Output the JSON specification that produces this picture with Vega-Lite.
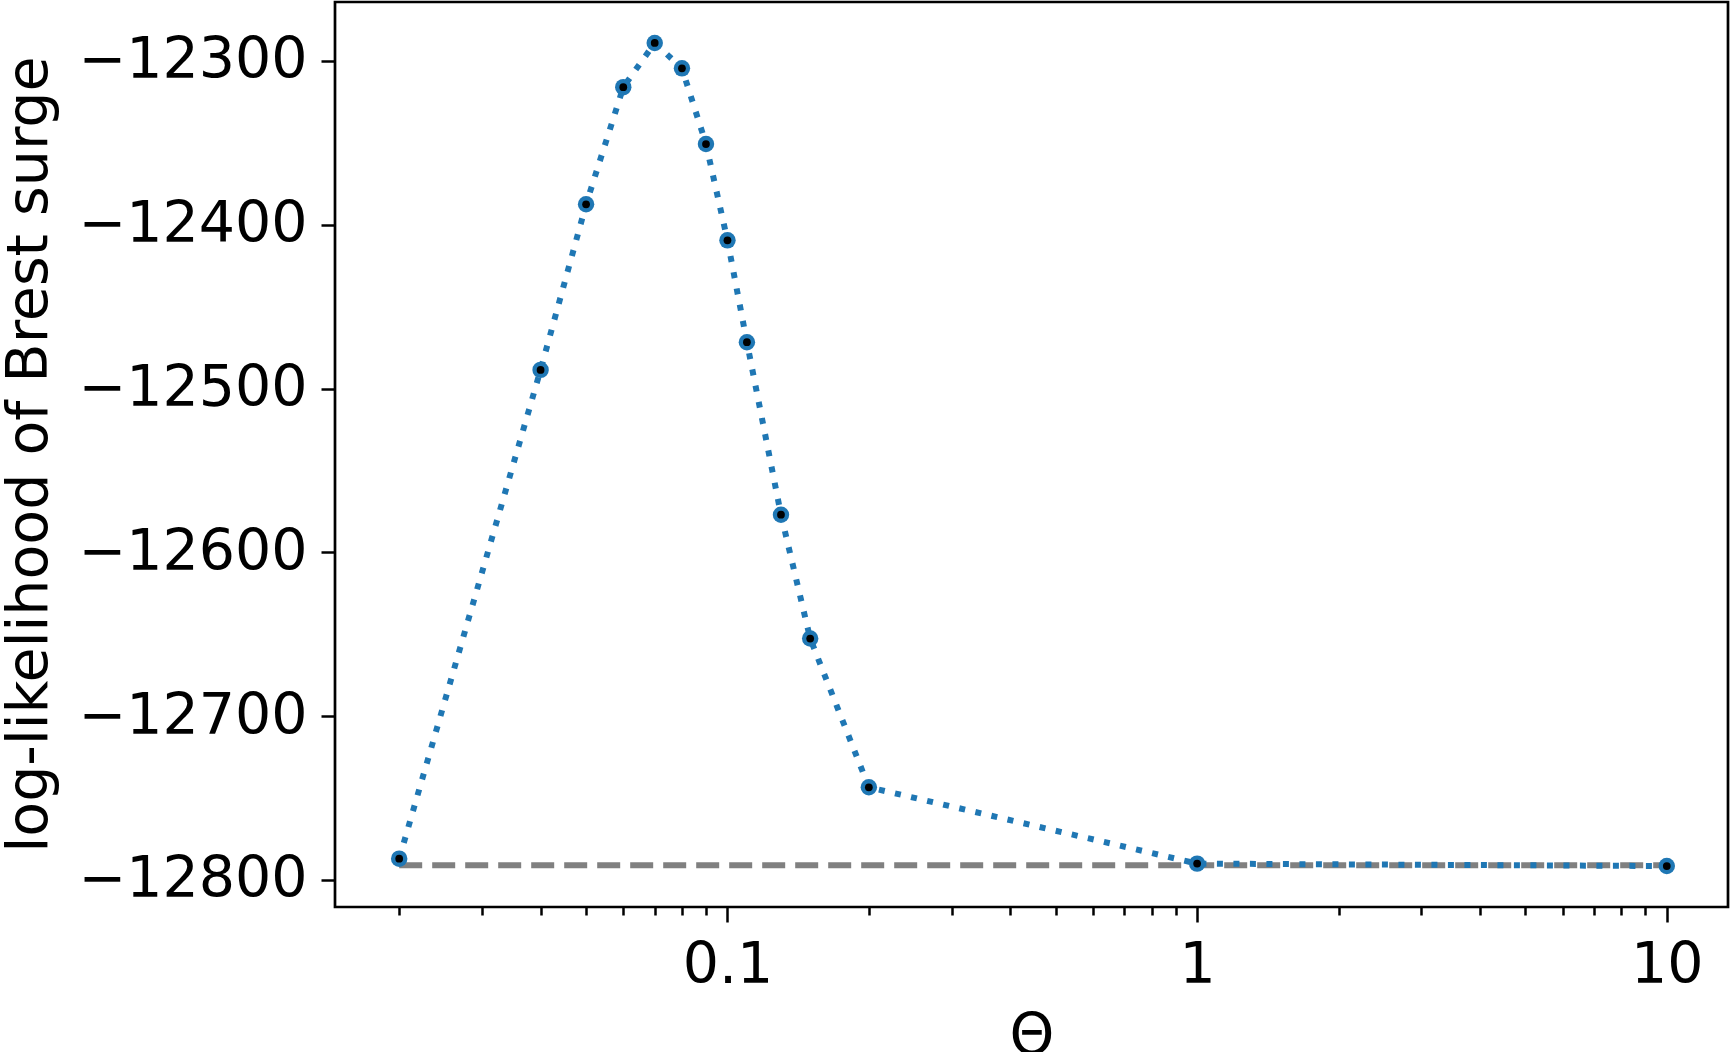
{
  "$schema": "https://vega.github.io/schema/vega-lite/v6.json",
  "width": 1393,
  "height": 905,
  "autosize": {"type": "none"},
  "padding": {"left": 335, "top": 2, "right": 4, "bottom": 145},
  "background": "white",
  "config": {
    "view": {"stroke": "black", "strokeWidth": 2.7},
    "axis": {
      "labelFont": "DejaVu Sans", "titleFont": "DejaVu Sans",
      "labelFontSize": 57, "titleFontSize": 57,
      "labelColor": "black", "titleColor": "black",
      "tickColor": "black", "tickWidth": 2.5,
      "domain": false, "grid": false, "titleFontWeight": "normal",
      "labelFlush": false, "labelOverlap": false, "labelLimit": 0, "titleLimit": 0
    }
  },
  "datasets": {
    "ll": [
      {"theta": 0.02, "ll": -12787},
      {"theta": 0.04, "ll": -12488.6},
      {"theta": 0.05, "ll": -12387.5},
      {"theta": 0.06, "ll": -12316},
      {"theta": 0.07, "ll": -12289},
      {"theta": 0.08, "ll": -12304.5},
      {"theta": 0.09, "ll": -12350.7},
      {"theta": 0.1, "ll": -12409.5},
      {"theta": 0.11, "ll": -12471.7},
      {"theta": 0.13, "ll": -12577},
      {"theta": 0.15, "ll": -12652.6},
      {"theta": 0.2, "ll": -12743.4},
      {"theta": 1, "ll": -12790},
      {"theta": 10, "ll": -12791.5}
    ],
    "base": [
      {"theta": 0.02, "ll": -12791},
      {"theta": 10, "ll": -12791}
    ]
  },
  "resolve": {"axis": {"x": "independent"}},
  "layer": [
    {
      "data": {"name": "base"},
      "mark": {"type": "line", "color": "#808080", "strokeWidth": 6, "strokeDash": [23, 10], "strokeCap": "butt"},
      "encoding": {
        "x": {"field": "theta", "type": "quantitative",
          "scale": {"type": "log", "domain": [0.0146, 13.5], "nice": false},
          "axis": {"orient": "bottom", "values": [0.02,0.03,0.04,0.05,0.06,0.07,0.08,0.09,0.2,0.3,0.4,0.5,0.6,0.7,0.8,0.9,2,3,4,5,6,7,8,9], "labels": false, "tickSize": 8, "title": null}},
        "y": {"field": "ll", "type": "quantitative",
          "scale": {"domain": [-12816.5, -12264], "nice": false, "zero": false},
          "axis": {"values": [-12800,-12700,-12600,-12500,-12400,-12300], "format": "d", "tickSize": 14, "labelPadding": 14,
            "title": "log-likelihood of Brest surge", "titleAngle": -90, "titleX": -289, "titleY": 452, "titleAlign": "center", "titleBaseline": "alphabetic"}}
      }
    },
    {
      "data": {"name": "ll"},
      "mark": {"type": "line", "color": "#1f77b4", "strokeWidth": 6, "strokeDash": [6, 10.5], "strokeCap": "butt"},
      "encoding": {
        "x": {"field": "theta", "type": "quantitative",
          "scale": {"type": "log", "domain": [0.0146, 13.5], "nice": false},
          "axis": {"orient": "bottom", "values": [0.1, 1, 10], "format": "~g", "tickSize": 15, "labelPadding": 60, "labelBaseline": "alphabetic",
            "title": "Θ", "titleX": 696.5, "titleY": 146, "titleBaseline": "alphabetic", "titleAlign": "center"}},
        "y": {"field": "ll", "type": "quantitative"}
      }
    },
    {
      "data": {"name": "ll"},
      "mark": {"type": "circle", "color": "#1f77b4", "size": 270, "opacity": 1},
      "encoding": {
        "x": {"field": "theta", "type": "quantitative", "axis": null},
        "y": {"field": "ll", "type": "quantitative"}
      }
    },
    {
      "data": {"name": "ll"},
      "mark": {"type": "circle", "color": "black", "size": 60, "opacity": 1},
      "encoding": {
        "x": {"field": "theta", "type": "quantitative", "axis": null},
        "y": {"field": "ll", "type": "quantitative"}
      }
    }
  ]
}
